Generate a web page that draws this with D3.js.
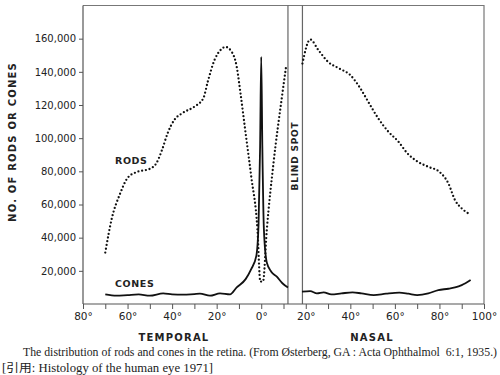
<!DOCTYPE html>
<html>
<head>
<meta charset="utf-8">
<script src="https://cdn.jsdelivr.net/npm/d3@7"></script>
<style>
  body { margin: 0; background: #fff; }
  svg { display: block; }
  .lbl { font-family: "DejaVu Sans", sans-serif; font-weight: bold; fill: #222; }
</style>
</head>
<body>
<svg id="chart" width="500" height="375"></svg>
<script>
// degrees: temporal side negative, nasal side positive
const rodsTempDeg = [-70, -67, -63.5, -60, -56, -50, -47, -44.5, -42, -39, -35.5, -30, -26, -24, -21, -18, -16, -13.5, -11, -9.3, -7.2, -4.5, -1.7, -0.4, 0.8, 2.5, 5.5, 9.3, 11.1]
const rodsTempVal = [31000, 52000, 66000, 76000, 79500, 81500, 85000, 93000, 103000, 111000, 115000, 119000, 124000, 134000, 147000, 153500, 155000, 152500, 143000, 127000, 105000, 77000, 45000, 13500, 13500, 44600, 84800, 124900, 142600]

const rodsNasDeg = [18.5, 22, 25.7, 30, 35, 40, 44.5, 48, 52.5, 57, 61.5, 65.5, 70, 75, 80, 84, 87, 90, 93]
const rodsNasVal = [145000, 159500, 153000, 146000, 142000, 138000, 130000, 122000, 112000, 104000, 98000, 91000, 86000, 82700, 79700, 72700, 62600, 57600, 54600]

const conesTempDeg = [-70, -65, -60, -55, -50, -44, -40, -35, -30, -27.5, -23, -18.5, -14, -11, -7, -4.5, -2.2, -1.2, -0.5, 0, 0.5, 1.2, 2.5, 4.5, 7, 9.5, 12]
const conesTempVal = [5800, 5000, 5400, 5800, 5000, 6400, 5800, 5600, 6000, 6200, 5000, 6400, 5800, 10000, 15000, 21000, 29000, 48000, 95000, 149000, 95000, 45000, 25000, 19500, 16500, 12500, 10000]

const conesNasDeg = [18.3, 22, 25, 28, 31.5, 36, 41, 45, 50.5, 56, 62, 66, 70, 75, 79.5, 84, 87, 90, 94]
const conesNasVal = [7400, 7800, 6400, 7000, 5800, 6400, 7000, 6400, 5400, 6200, 6800, 6200, 5400, 6400, 8400, 9200, 10000, 11400, 14500]

const blindSpot = [12, 18.5]
const yTicks = [20000, 40000, 60000, 80000, 100000, 120000, 140000, 160000]
const xTicks = [-80, -70, -60, -50, -40, -30, -20, -10, 0, 10, 20, 30, 40, 50, 60, 70, 80, 90, 100]
const xLabels = [-80, -60, -40, -20, 0, 20, 40, 60, 80, 100]

const svg = d3.select('#chart')

const x = d3.scaleLinear().domain([-80, 100]).range([83, 484])
const y = d3.scaleLinear().domain([0, 180000]).range([304, 5.5])

// frame top / right
svg.append('path')
  .attr('d', `M${x(-80)},${y(180000)}H${x(100)}V${y(0)}`)
  .attr('fill', 'none').attr('stroke', '#777').attr('stroke-width', 1.2)

// blind spot borders
svg.selectAll('.bs').data(blindSpot).enter().append('line')
  .attr('x1', d => x(d)).attr('x2', d => x(d))
  .attr('y1', y(180000)).attr('y2', y(0))
  .attr('stroke', '#666').attr('stroke-width', 1.2)

// y axis
const yAxis = svg.append('g')
  .attr('transform', `translate(${x(-80)},0)`)
  .call(d3.axisLeft(y).tickValues(yTicks).tickSize(4).tickPadding(3).tickFormat(d3.format(',')))
yAxis.select('.domain').attr('d', `M0,${y(0)}V${y(180000)}`).attr('stroke', '#555').attr('stroke-width', 1.2)
yAxis.selectAll('.tick line').attr('stroke', '#555')
yAxis.selectAll('text').attr('font-family', '"DejaVu Sans", sans-serif').attr('font-size', 10).attr('fill', '#222')

// x axis
const xAxis = svg.append('g')
  .attr('transform', `translate(0,${y(0)})`)
  .call(d3.axisBottom(x).tickValues(xTicks).tickSize(5).tickPadding(4)
    .tickFormat(d => xLabels.includes(d) ? Math.abs(d) + '°' : ''))
xAxis.select('.domain').attr('d', `M${x(-80)},0H${x(100)}`).attr('stroke', '#555').attr('stroke-width', 1.2)
xAxis.selectAll('.tick line').attr('stroke', '#555')
xAxis.selectAll('text').attr('font-family', '"DejaVu Sans", sans-serif').attr('font-size', 10.5).attr('fill', '#222')

// lines
const line = d3.line().x(d => x(d[0])).y(d => y(d[1])).curve(d3.curveMonotoneX)
const zip = (a, b) => a.map((d, i) => [d, b[i]])

svg.append('path').datum(zip(rodsTempDeg, rodsTempVal)).attr('d', line)
  .attr('fill', 'none').attr('stroke', '#111').attr('stroke-width', 2.3)
  .attr('stroke-linecap', 'round').attr('stroke-dasharray', '0 3.8')
svg.append('path').datum(zip(rodsNasDeg, rodsNasVal)).attr('d', line)
  .attr('fill', 'none').attr('stroke', '#111').attr('stroke-width', 2.3)
  .attr('stroke-linecap', 'round').attr('stroke-dasharray', '0 3.8')

svg.append('path').datum(zip(conesTempDeg, conesTempVal)).attr('d', line)
  .attr('fill', 'none').attr('stroke', '#111').attr('stroke-width', 1.8)
svg.append('path').datum(zip(conesNasDeg, conesNasVal)).attr('d', line)
  .attr('fill', 'none').attr('stroke', '#111').attr('stroke-width', 1.8)

// labels
svg.append('text').attr('class', 'lbl')
  .attr('transform', 'translate(16,142) rotate(-90)')
  .attr('text-anchor', 'middle').attr('font-size', 10).attr('letter-spacing', 1.2)
  .text('NO. OF RODS OR CONES')

svg.append('text').attr('class', 'lbl')
  .attr('x', 115).attr('y', 164).attr('font-size', 9.5).attr('letter-spacing', 0.6)
  .text('RODS')
svg.append('text').attr('class', 'lbl')
  .attr('x', 115).attr('y', 287).attr('font-size', 9.5).attr('letter-spacing', 0.6)
  .text('CONES')

svg.append('text').attr('class', 'lbl')
  .attr('transform', `translate(${(x(blindSpot[0]) + x(blindSpot[1])) / 2 + 3},156) rotate(-90)`)
  .attr('text-anchor', 'middle').attr('font-size', 9).attr('letter-spacing', 0.8)
  .text('BLIND SPOT')

svg.append('text').attr('class', 'lbl')
  .attr('x', 174).attr('y', 341).attr('text-anchor', 'middle')
  .attr('font-size', 10).attr('letter-spacing', 1.2)
  .text('TEMPORAL')
svg.append('text').attr('class', 'lbl')
  .attr('x', 372).attr('y', 341).attr('text-anchor', 'middle')
  .attr('font-size', 10).attr('letter-spacing', 1.2)
  .text('NASAL')

// caption
svg.append('text')
  .attr('x', 23).attr('y', 356)
  .attr('font-family', '"Liberation Serif", serif').attr('font-size', 11.5).attr('fill', '#222')
  .style('white-space', 'pre')
  .attr('textLength', 474).attr('lengthAdjust', 'spacingAndGlyphs')
  .text('The distribution of rods and cones in the retina. (From Østerberg, GA : Acta Ophthalmol  6:1, 1935.)')
svg.append('text')
  .attr('x', 2).attr('y', 372)
  .attr('font-family', '"Liberation Serif", "Noto Sans CJK JP", serif').attr('font-size', 11.5).attr('fill', '#222')
  .attr('textLength', 211).attr('lengthAdjust', 'spacingAndGlyphs')
  .text('[引用: Histology of the human eye 1971]')
</script>
</body>
</html>
